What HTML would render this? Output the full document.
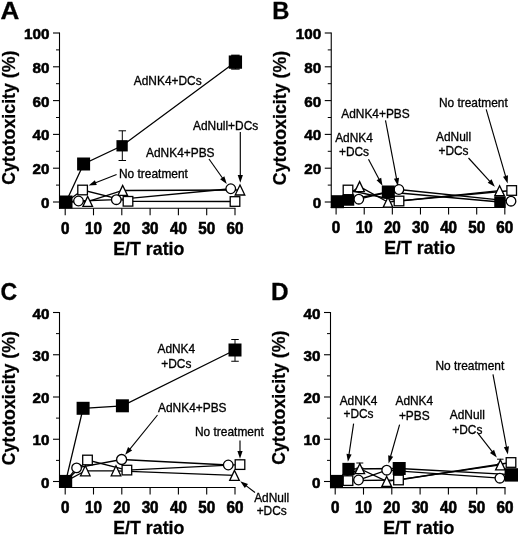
<!DOCTYPE html>
<html><head><meta charset="utf-8"><title>Cytotoxicity vs E/T ratio</title>
<style>
html,body{margin:0;padding:0;background:#fff;}
body{width:520px;height:536px;overflow:hidden;}
svg{display:block;filter:blur(0.45px);font-family:'Liberation Sans', sans-serif;fill:#000;}
</style></head><body>
<svg width="520" height="536" viewBox="0 0 520 536">
<rect width="520" height="536" fill="#fff"/>
<line x1="59.50" y1="32.50" x2="59.50" y2="208.80" stroke="#000" stroke-width="1.1"/>
<line x1="59.00" y1="208.30" x2="235.50" y2="208.30" stroke="#000" stroke-width="1.1"/>
<line x1="53.00" y1="202.00" x2="59.50" y2="202.00" stroke="#000" stroke-width="1.1"/>
<text transform="translate(49.50,208.00) scale(0.958,0.97)" font-size="15.9" font-weight="bold" text-anchor="end"  stroke="#000" stroke-width="0.6">0</text>
<line x1="56.00" y1="185.10" x2="59.50" y2="185.10" stroke="#000" stroke-width="1.0"/>
<line x1="53.00" y1="168.20" x2="59.50" y2="168.20" stroke="#000" stroke-width="1.1"/>
<text transform="translate(49.50,174.20) scale(0.958,0.97)" font-size="15.9" font-weight="bold" text-anchor="end"  stroke="#000" stroke-width="0.6">20</text>
<line x1="56.00" y1="151.30" x2="59.50" y2="151.30" stroke="#000" stroke-width="1.0"/>
<line x1="53.00" y1="134.40" x2="59.50" y2="134.40" stroke="#000" stroke-width="1.1"/>
<text transform="translate(49.50,140.40) scale(0.958,0.97)" font-size="15.9" font-weight="bold" text-anchor="end"  stroke="#000" stroke-width="0.6">40</text>
<line x1="56.00" y1="117.50" x2="59.50" y2="117.50" stroke="#000" stroke-width="1.0"/>
<line x1="53.00" y1="100.60" x2="59.50" y2="100.60" stroke="#000" stroke-width="1.1"/>
<text transform="translate(49.50,106.60) scale(0.958,0.97)" font-size="15.9" font-weight="bold" text-anchor="end"  stroke="#000" stroke-width="0.6">60</text>
<line x1="56.00" y1="83.70" x2="59.50" y2="83.70" stroke="#000" stroke-width="1.0"/>
<line x1="53.00" y1="66.80" x2="59.50" y2="66.80" stroke="#000" stroke-width="1.1"/>
<text transform="translate(49.50,72.80) scale(0.958,0.97)" font-size="15.9" font-weight="bold" text-anchor="end"  stroke="#000" stroke-width="0.6">80</text>
<line x1="56.00" y1="49.90" x2="59.50" y2="49.90" stroke="#000" stroke-width="1.0"/>
<line x1="53.00" y1="33.00" x2="59.50" y2="33.00" stroke="#000" stroke-width="1.1"/>
<text transform="translate(49.50,39.00) scale(0.958,0.97)" font-size="15.9" font-weight="bold" text-anchor="end"  stroke="#000" stroke-width="0.6">100</text>
<line x1="65.20" y1="208.30" x2="65.20" y2="215.30" stroke="#000" stroke-width="1.1"/>
<text transform="translate(65.20,234.00) scale(0.958,1)" font-size="15.9" font-weight="bold" text-anchor="middle"  stroke="#000" stroke-width="0.6">0</text>
<line x1="93.50" y1="208.30" x2="93.50" y2="215.30" stroke="#000" stroke-width="1.1"/>
<text transform="translate(93.50,234.00) scale(0.958,1)" font-size="15.9" font-weight="bold" text-anchor="middle"  stroke="#000" stroke-width="0.6">10</text>
<line x1="121.80" y1="208.30" x2="121.80" y2="215.30" stroke="#000" stroke-width="1.1"/>
<text transform="translate(121.80,234.00) scale(0.958,1)" font-size="15.9" font-weight="bold" text-anchor="middle"  stroke="#000" stroke-width="0.6">20</text>
<line x1="150.10" y1="208.30" x2="150.10" y2="215.30" stroke="#000" stroke-width="1.1"/>
<text transform="translate(150.10,234.00) scale(0.958,1)" font-size="15.9" font-weight="bold" text-anchor="middle"  stroke="#000" stroke-width="0.6">30</text>
<line x1="178.40" y1="208.30" x2="178.40" y2="215.30" stroke="#000" stroke-width="1.1"/>
<text transform="translate(178.40,234.00) scale(0.958,1)" font-size="15.9" font-weight="bold" text-anchor="middle"  stroke="#000" stroke-width="0.6">40</text>
<line x1="206.70" y1="208.30" x2="206.70" y2="215.30" stroke="#000" stroke-width="1.1"/>
<text transform="translate(206.70,234.00) scale(0.958,1)" font-size="15.9" font-weight="bold" text-anchor="middle"  stroke="#000" stroke-width="0.6">50</text>
<line x1="235.00" y1="208.30" x2="235.00" y2="215.30" stroke="#000" stroke-width="1.1"/>
<text transform="translate(235.00,234.00) scale(0.958,1)" font-size="15.9" font-weight="bold" text-anchor="middle"  stroke="#000" stroke-width="0.6">60</text>
<text transform="translate(148.80,254.90) scale(1,1)" font-size="17.8" font-weight="bold" text-anchor="middle"  stroke="#000" stroke-width="0.3">E/T ratio</text>
<text transform="translate(15.20,117.70) rotate(-90)" font-size="17.8" font-weight="bold" stroke="#000" stroke-width="0.25" text-anchor="middle">Cytotoxicity (%)</text>
<text transform="translate(0.60,19.40) scale(1.06,1)" font-size="24.6" font-weight="bold" text-anchor="start"  stroke="#000" stroke-width="0.3">A</text>
<polyline points="66.00,202.00 82.60,190.00 128.00,201.30 235.00,201.50" fill="none" stroke="#000" stroke-width="1.3"/>
<polyline points="66.00,202.00 78.50,201.00 116.30,199.70 230.75,188.75" fill="none" stroke="#000" stroke-width="1.3"/>
<polyline points="66.00,202.00 87.70,201.50 122.70,190.50 240.00,190.00" fill="none" stroke="#000" stroke-width="1.3"/>
<polyline points="66.00,202.00 83.60,164.00 122.10,145.80 235.40,62.10" fill="none" stroke="#000" stroke-width="1.3"/>
<line x1="122.30" y1="130.80" x2="122.30" y2="160.50" stroke="#000" stroke-width="1.0"/>
<line x1="118.55" y1="130.80" x2="126.05" y2="130.80" stroke="#000" stroke-width="1.0"/>
<line x1="118.55" y1="160.50" x2="126.05" y2="160.50" stroke="#000" stroke-width="1.0"/>
<line x1="235.40" y1="55.30" x2="235.40" y2="69.00" stroke="#000" stroke-width="1.3"/>
<line x1="231.15" y1="55.30" x2="239.65" y2="55.30" stroke="#000" stroke-width="1.3"/>
<line x1="231.15" y1="69.00" x2="239.65" y2="69.00" stroke="#000" stroke-width="1.3"/>
<rect x="77.80" y="185.20" width="9.6" height="9.6" fill="#fff" stroke="#000" stroke-width="1.3"/>
<rect x="123.20" y="196.50" width="9.6" height="9.6" fill="#fff" stroke="#000" stroke-width="1.3"/>
<rect x="230.20" y="196.70" width="9.6" height="9.6" fill="#fff" stroke="#000" stroke-width="1.3"/>
<polygon points="87.70,196.40 82.90,206.40 92.50,206.40" fill="#fff" stroke="#000" stroke-width="1.3" stroke-linejoin="miter"/>
<polygon points="122.70,185.40 117.90,195.40 127.50,195.40" fill="#fff" stroke="#000" stroke-width="1.3" stroke-linejoin="miter"/>
<polygon points="240.00,185.00 235.20,195.00 244.80,195.00" fill="#fff" stroke="#000" stroke-width="1.3" stroke-linejoin="miter"/>
<circle cx="78.50" cy="201.00" r="4.8" fill="#fff" stroke="#000" stroke-width="1.3"/>
<circle cx="116.30" cy="199.70" r="4.8" fill="#fff" stroke="#000" stroke-width="1.3"/>
<circle cx="230.75" cy="188.75" r="4.8" fill="#fff" stroke="#000" stroke-width="1.3"/>
<rect x="59.50" y="195.50" width="13" height="13" fill="#000"/>
<rect x="77.10" y="157.50" width="13" height="13" fill="#000"/>
<rect x="116.45" y="140.15" width="11.3" height="11.3" fill="#000"/>
<rect x="228.75" y="55.45" width="13.3" height="13.3" fill="#000"/>
<text transform="translate(133.75,85.40) scale(0.95,1)" font-size="12.55" font-weight="normal" text-anchor="start"  stroke="#000" stroke-width="0.33">AdNK4+DCs</text>
<text transform="translate(193.00,130.40) scale(0.95,1)" font-size="12.55" font-weight="normal" text-anchor="start"  stroke="#000" stroke-width="0.33">AdNull+DCs</text>
<text transform="translate(146.00,157.40) scale(0.95,1)" font-size="12.55" font-weight="normal" text-anchor="start"  stroke="#000" stroke-width="0.33">AdNK4+PBS</text>
<text transform="translate(119.00,178.10) scale(0.95,1)" font-size="12.55" font-weight="normal" text-anchor="start"  stroke="#000" stroke-width="0.33">No treatment</text>
<line x1="240.30" y1="132.00" x2="240.30" y2="176.00" stroke="#000" stroke-width="1.15"/>
<polygon points="240.30,182.80 237.70,175.00 242.90,175.00" fill="#000"/>
<line x1="209.00" y1="159.00" x2="222.82" y2="178.51" stroke="#000" stroke-width="1.15"/>
<polygon points="226.75,184.06 220.12,179.20 224.36,176.19" fill="#000"/>
<line x1="116.60" y1="174.50" x2="94.92" y2="182.99" stroke="#000" stroke-width="1.15"/>
<polygon points="88.59,185.47 94.90,180.21 96.80,185.05" fill="#000"/>
<line x1="331.25" y1="32.50" x2="331.25" y2="208.00" stroke="#000" stroke-width="1.1"/>
<line x1="330.75" y1="207.50" x2="505.32" y2="207.50" stroke="#000" stroke-width="1.1"/>
<line x1="324.75" y1="202.00" x2="331.25" y2="202.00" stroke="#000" stroke-width="1.1"/>
<text transform="translate(321.25,208.00) scale(0.958,0.97)" font-size="15.9" font-weight="bold" text-anchor="end"  stroke="#000" stroke-width="0.6">0</text>
<line x1="327.75" y1="185.10" x2="331.25" y2="185.10" stroke="#000" stroke-width="1.0"/>
<line x1="324.75" y1="168.20" x2="331.25" y2="168.20" stroke="#000" stroke-width="1.1"/>
<text transform="translate(321.25,174.20) scale(0.958,0.97)" font-size="15.9" font-weight="bold" text-anchor="end"  stroke="#000" stroke-width="0.6">20</text>
<line x1="327.75" y1="151.30" x2="331.25" y2="151.30" stroke="#000" stroke-width="1.0"/>
<line x1="324.75" y1="134.40" x2="331.25" y2="134.40" stroke="#000" stroke-width="1.1"/>
<text transform="translate(321.25,140.40) scale(0.958,0.97)" font-size="15.9" font-weight="bold" text-anchor="end"  stroke="#000" stroke-width="0.6">40</text>
<line x1="327.75" y1="117.50" x2="331.25" y2="117.50" stroke="#000" stroke-width="1.0"/>
<line x1="324.75" y1="100.60" x2="331.25" y2="100.60" stroke="#000" stroke-width="1.1"/>
<text transform="translate(321.25,106.60) scale(0.958,0.97)" font-size="15.9" font-weight="bold" text-anchor="end"  stroke="#000" stroke-width="0.6">60</text>
<line x1="327.75" y1="83.70" x2="331.25" y2="83.70" stroke="#000" stroke-width="1.0"/>
<line x1="324.75" y1="66.80" x2="331.25" y2="66.80" stroke="#000" stroke-width="1.1"/>
<text transform="translate(321.25,72.80) scale(0.958,0.97)" font-size="15.9" font-weight="bold" text-anchor="end"  stroke="#000" stroke-width="0.6">80</text>
<line x1="327.75" y1="49.90" x2="331.25" y2="49.90" stroke="#000" stroke-width="1.0"/>
<line x1="324.75" y1="33.00" x2="331.25" y2="33.00" stroke="#000" stroke-width="1.1"/>
<text transform="translate(321.25,39.00) scale(0.958,0.97)" font-size="15.9" font-weight="bold" text-anchor="end"  stroke="#000" stroke-width="0.6">100</text>
<line x1="336.10" y1="207.50" x2="336.10" y2="214.50" stroke="#000" stroke-width="1.1"/>
<text transform="translate(336.10,233.20) scale(0.958,1)" font-size="15.9" font-weight="bold" text-anchor="middle"  stroke="#000" stroke-width="0.6">0</text>
<line x1="364.22" y1="207.50" x2="364.22" y2="214.50" stroke="#000" stroke-width="1.1"/>
<text transform="translate(364.22,233.20) scale(0.958,1)" font-size="15.9" font-weight="bold" text-anchor="middle"  stroke="#000" stroke-width="0.6">10</text>
<line x1="392.34" y1="207.50" x2="392.34" y2="214.50" stroke="#000" stroke-width="1.1"/>
<text transform="translate(392.34,233.20) scale(0.958,1)" font-size="15.9" font-weight="bold" text-anchor="middle"  stroke="#000" stroke-width="0.6">20</text>
<line x1="420.46" y1="207.50" x2="420.46" y2="214.50" stroke="#000" stroke-width="1.1"/>
<text transform="translate(420.46,233.20) scale(0.958,1)" font-size="15.9" font-weight="bold" text-anchor="middle"  stroke="#000" stroke-width="0.6">30</text>
<line x1="448.58" y1="207.50" x2="448.58" y2="214.50" stroke="#000" stroke-width="1.1"/>
<text transform="translate(448.58,233.20) scale(0.958,1)" font-size="15.9" font-weight="bold" text-anchor="middle"  stroke="#000" stroke-width="0.6">40</text>
<line x1="476.70" y1="207.50" x2="476.70" y2="214.50" stroke="#000" stroke-width="1.1"/>
<text transform="translate(476.70,233.20) scale(0.958,1)" font-size="15.9" font-weight="bold" text-anchor="middle"  stroke="#000" stroke-width="0.6">50</text>
<line x1="504.82" y1="207.50" x2="504.82" y2="214.50" stroke="#000" stroke-width="1.1"/>
<text transform="translate(504.82,233.20) scale(0.958,1)" font-size="15.9" font-weight="bold" text-anchor="middle"  stroke="#000" stroke-width="0.6">60</text>
<text transform="translate(419.70,254.10) scale(1,1)" font-size="17.8" font-weight="bold" text-anchor="middle"  stroke="#000" stroke-width="0.3">E/T ratio</text>
<text transform="translate(286.35,118.00) rotate(-90)" font-size="17.8" font-weight="bold" stroke="#000" stroke-width="0.25" text-anchor="middle">Cytotoxicity (%)</text>
<text transform="translate(272.20,19.00) scale(0.965,1)" font-size="24.6" font-weight="bold" text-anchor="start"  stroke="#000" stroke-width="0.3">B</text>
<polyline points="337.50,202.00 348.00,190.00 399.00,201.00 511.70,190.50" fill="none" stroke="#000" stroke-width="1.3"/>
<polyline points="337.50,202.00 358.80,199.20 398.90,189.50 511.00,201.20" fill="none" stroke="#000" stroke-width="1.3"/>
<polyline points="337.50,202.00 359.60,186.60 388.00,202.20 499.60,190.70" fill="none" stroke="#000" stroke-width="1.3"/>
<polyline points="337.50,201.70 348.00,200.00 388.00,192.00 500.00,202.00" fill="none" stroke="#000" stroke-width="1.3"/>
<rect x="343.20" y="185.20" width="9.6" height="9.6" fill="#fff" stroke="#000" stroke-width="1.3"/>
<rect x="394.20" y="196.20" width="9.6" height="9.6" fill="#fff" stroke="#000" stroke-width="1.3"/>
<rect x="506.90" y="185.70" width="9.6" height="9.6" fill="#fff" stroke="#000" stroke-width="1.3"/>
<polygon points="359.60,181.60 354.80,191.60 364.40,191.60" fill="#fff" stroke="#000" stroke-width="1.3" stroke-linejoin="miter"/>
<polygon points="388.00,197.20 383.20,207.20 392.80,207.20" fill="#fff" stroke="#000" stroke-width="1.3" stroke-linejoin="miter"/>
<polygon points="499.60,185.70 494.80,195.70 504.40,195.70" fill="#fff" stroke="#000" stroke-width="1.3" stroke-linejoin="miter"/>
<circle cx="358.80" cy="199.20" r="4.8" fill="#fff" stroke="#000" stroke-width="1.3"/>
<circle cx="398.90" cy="189.50" r="4.8" fill="#fff" stroke="#000" stroke-width="1.3"/>
<circle cx="511.00" cy="201.20" r="4.8" fill="#fff" stroke="#000" stroke-width="1.3"/>
<rect x="331.00" y="195.20" width="13" height="13" fill="#000"/>
<rect x="342.75" y="194.25" width="11.5" height="11.5" fill="#000"/>
<rect x="381.80" y="185.50" width="13" height="13" fill="#000"/>
<rect x="494.25" y="196.25" width="11.5" height="11.5" fill="#000"/>
<text transform="translate(341.20,118.40) scale(0.95,1)" font-size="12.55" font-weight="normal" text-anchor="start"  stroke="#000" stroke-width="0.33">AdNK4+PBS</text>
<text transform="translate(354.00,141.90) scale(0.95,1)" font-size="12.55" font-weight="normal" text-anchor="middle"  stroke="#000" stroke-width="0.33">AdNK4</text>
<text transform="translate(354.00,155.90) scale(0.95,1)" font-size="12.55" font-weight="normal" text-anchor="middle"  stroke="#000" stroke-width="0.33">+DCs</text>
<text transform="translate(438.90,106.90) scale(0.95,1)" font-size="12.55" font-weight="normal" text-anchor="start"  stroke="#000" stroke-width="0.33">No treatment</text>
<text transform="translate(453.50,141.40) scale(0.95,1)" font-size="12.55" font-weight="normal" text-anchor="middle"  stroke="#000" stroke-width="0.33">AdNull</text>
<text transform="translate(453.50,155.40) scale(0.95,1)" font-size="12.55" font-weight="normal" text-anchor="middle"  stroke="#000" stroke-width="0.33">+DCs</text>
<line x1="385.50" y1="120.30" x2="396.68" y2="179.30" stroke="#000" stroke-width="1.15"/>
<polygon points="397.94,185.98 393.94,178.80 399.04,177.83" fill="#000"/>
<line x1="368.50" y1="159.20" x2="379.34" y2="179.83" stroke="#000" stroke-width="1.15"/>
<polygon points="382.50,185.85 376.57,180.16 381.18,177.74" fill="#000"/>
<line x1="486.20" y1="109.40" x2="505.77" y2="176.92" stroke="#000" stroke-width="1.15"/>
<polygon points="507.66,183.45 502.99,176.68 507.99,175.23" fill="#000"/>
<line x1="468.50" y1="158.00" x2="490.29" y2="181.84" stroke="#000" stroke-width="1.15"/>
<polygon points="494.88,186.86 487.70,182.86 491.53,179.35" fill="#000"/>
<line x1="59.50" y1="312.00" x2="59.50" y2="488.00" stroke="#000" stroke-width="1.1"/>
<line x1="59.00" y1="487.50" x2="235.50" y2="487.50" stroke="#000" stroke-width="1.1"/>
<line x1="53.00" y1="481.50" x2="59.50" y2="481.50" stroke="#000" stroke-width="1.1"/>
<text transform="translate(49.50,487.50) scale(0.958,0.97)" font-size="15.9" font-weight="bold" text-anchor="end"  stroke="#000" stroke-width="0.6">0</text>
<line x1="56.00" y1="460.38" x2="59.50" y2="460.38" stroke="#000" stroke-width="1.0"/>
<line x1="53.00" y1="439.25" x2="59.50" y2="439.25" stroke="#000" stroke-width="1.1"/>
<text transform="translate(49.50,445.25) scale(0.958,0.97)" font-size="15.9" font-weight="bold" text-anchor="end"  stroke="#000" stroke-width="0.6">10</text>
<line x1="56.00" y1="418.12" x2="59.50" y2="418.12" stroke="#000" stroke-width="1.0"/>
<line x1="53.00" y1="397.00" x2="59.50" y2="397.00" stroke="#000" stroke-width="1.1"/>
<text transform="translate(49.50,403.00) scale(0.958,0.97)" font-size="15.9" font-weight="bold" text-anchor="end"  stroke="#000" stroke-width="0.6">20</text>
<line x1="56.00" y1="375.88" x2="59.50" y2="375.88" stroke="#000" stroke-width="1.0"/>
<line x1="53.00" y1="354.75" x2="59.50" y2="354.75" stroke="#000" stroke-width="1.1"/>
<text transform="translate(49.50,360.75) scale(0.958,0.97)" font-size="15.9" font-weight="bold" text-anchor="end"  stroke="#000" stroke-width="0.6">30</text>
<line x1="56.00" y1="333.62" x2="59.50" y2="333.62" stroke="#000" stroke-width="1.0"/>
<line x1="53.00" y1="312.50" x2="59.50" y2="312.50" stroke="#000" stroke-width="1.1"/>
<text transform="translate(49.50,318.50) scale(0.958,0.97)" font-size="15.9" font-weight="bold" text-anchor="end"  stroke="#000" stroke-width="0.6">40</text>
<line x1="65.20" y1="487.50" x2="65.20" y2="494.50" stroke="#000" stroke-width="1.1"/>
<text transform="translate(65.20,513.20) scale(0.958,1)" font-size="15.9" font-weight="bold" text-anchor="middle"  stroke="#000" stroke-width="0.6">0</text>
<line x1="93.50" y1="487.50" x2="93.50" y2="494.50" stroke="#000" stroke-width="1.1"/>
<text transform="translate(93.50,513.20) scale(0.958,1)" font-size="15.9" font-weight="bold" text-anchor="middle"  stroke="#000" stroke-width="0.6">10</text>
<line x1="121.80" y1="487.50" x2="121.80" y2="494.50" stroke="#000" stroke-width="1.1"/>
<text transform="translate(121.80,513.20) scale(0.958,1)" font-size="15.9" font-weight="bold" text-anchor="middle"  stroke="#000" stroke-width="0.6">20</text>
<line x1="150.10" y1="487.50" x2="150.10" y2="494.50" stroke="#000" stroke-width="1.1"/>
<text transform="translate(150.10,513.20) scale(0.958,1)" font-size="15.9" font-weight="bold" text-anchor="middle"  stroke="#000" stroke-width="0.6">30</text>
<line x1="178.40" y1="487.50" x2="178.40" y2="494.50" stroke="#000" stroke-width="1.1"/>
<text transform="translate(178.40,513.20) scale(0.958,1)" font-size="15.9" font-weight="bold" text-anchor="middle"  stroke="#000" stroke-width="0.6">40</text>
<line x1="206.70" y1="487.50" x2="206.70" y2="494.50" stroke="#000" stroke-width="1.1"/>
<text transform="translate(206.70,513.20) scale(0.958,1)" font-size="15.9" font-weight="bold" text-anchor="middle"  stroke="#000" stroke-width="0.6">50</text>
<line x1="235.00" y1="487.50" x2="235.00" y2="494.50" stroke="#000" stroke-width="1.1"/>
<text transform="translate(235.00,513.20) scale(0.958,1)" font-size="15.9" font-weight="bold" text-anchor="middle"  stroke="#000" stroke-width="0.6">60</text>
<text transform="translate(148.80,534.10) scale(1,1)" font-size="17.8" font-weight="bold" text-anchor="middle"  stroke="#000" stroke-width="0.3">E/T ratio</text>
<text transform="translate(15.20,398.20) rotate(-90)" font-size="17.8" font-weight="bold" stroke="#000" stroke-width="0.25" text-anchor="middle">Cytotoxicity (%)</text>
<text transform="translate(0.60,300.40) scale(0.94,1)" font-size="24.6" font-weight="bold" text-anchor="start"  stroke="#000" stroke-width="0.3">C</text>
<polyline points="65.70,481.40 87.50,460.00 126.90,470.10 240.00,464.60" fill="none" stroke="#000" stroke-width="1.3"/>
<polyline points="65.70,481.40 76.60,467.90 121.60,459.50 228.25,465.00" fill="none" stroke="#000" stroke-width="1.3"/>
<polyline points="65.70,481.40 85.30,470.80 116.00,470.80 234.50,475.40" fill="none" stroke="#000" stroke-width="1.3"/>
<polyline points="65.70,481.40 83.10,408.30 122.40,405.80 235.00,350.00" fill="none" stroke="#000" stroke-width="1.3"/>
<line x1="235.00" y1="339.50" x2="235.00" y2="361.25" stroke="#000" stroke-width="1.0"/>
<line x1="231.25" y1="339.50" x2="238.75" y2="339.50" stroke="#000" stroke-width="1.0"/>
<line x1="231.25" y1="361.25" x2="238.75" y2="361.25" stroke="#000" stroke-width="1.0"/>
<rect x="82.70" y="455.20" width="9.6" height="9.6" fill="#fff" stroke="#000" stroke-width="1.3"/>
<rect x="122.10" y="465.30" width="9.6" height="9.6" fill="#fff" stroke="#000" stroke-width="1.3"/>
<rect x="235.20" y="459.80" width="9.6" height="9.6" fill="#fff" stroke="#000" stroke-width="1.3"/>
<polygon points="85.30,465.80 80.50,475.80 90.10,475.80" fill="#fff" stroke="#000" stroke-width="1.3" stroke-linejoin="miter"/>
<polygon points="116.00,465.80 111.20,475.80 120.80,475.80" fill="#fff" stroke="#000" stroke-width="1.3" stroke-linejoin="miter"/>
<polygon points="234.50,470.40 229.70,480.40 239.30,480.40" fill="#fff" stroke="#000" stroke-width="1.3" stroke-linejoin="miter"/>
<circle cx="76.60" cy="467.90" r="4.8" fill="#fff" stroke="#000" stroke-width="1.3"/>
<circle cx="121.60" cy="459.50" r="5.0" fill="#fff" stroke="#000" stroke-width="1.3"/>
<circle cx="228.25" cy="465.00" r="4.8" fill="#fff" stroke="#000" stroke-width="1.3"/>
<rect x="59.20" y="474.90" width="13" height="13" fill="#000"/>
<rect x="76.60" y="401.80" width="13" height="13" fill="#000"/>
<rect x="115.90" y="399.30" width="13" height="13" fill="#000"/>
<rect x="228.50" y="343.50" width="13" height="13" fill="#000"/>
<text transform="translate(176.30,352.90) scale(0.95,1)" font-size="12.55" font-weight="normal" text-anchor="middle"  stroke="#000" stroke-width="0.33">AdNK4</text>
<text transform="translate(176.30,367.90) scale(0.95,1)" font-size="12.55" font-weight="normal" text-anchor="middle"  stroke="#000" stroke-width="0.33">+DCs</text>
<text transform="translate(158.00,411.65) scale(0.95,1)" font-size="12.55" font-weight="normal" text-anchor="start"  stroke="#000" stroke-width="0.33">AdNK4+PBS</text>
<text transform="translate(195.00,436.20) scale(0.95,1)" font-size="12.55" font-weight="normal" text-anchor="start"  stroke="#000" stroke-width="0.33">No treatment</text>
<text transform="translate(271.70,501.65) scale(0.95,1)" font-size="12.55" font-weight="normal" text-anchor="middle"  stroke="#000" stroke-width="0.33">AdNull</text>
<text transform="translate(271.70,515.40) scale(0.95,1)" font-size="12.55" font-weight="normal" text-anchor="middle"  stroke="#000" stroke-width="0.33">+DCs</text>
<line x1="157.50" y1="415.00" x2="129.47" y2="449.53" stroke="#000" stroke-width="1.15"/>
<polygon points="125.18,454.81 128.08,447.11 132.12,450.39" fill="#000"/>
<line x1="240.00" y1="440.50" x2="240.00" y2="452.00" stroke="#000" stroke-width="1.15"/>
<polygon points="240.00,458.80 237.40,451.00 242.60,451.00" fill="#000"/>
<line x1="255.00" y1="492.50" x2="245.62" y2="485.34" stroke="#000" stroke-width="1.15"/>
<polygon points="240.22,481.21 247.99,483.88 244.84,488.01" fill="#000"/>
<line x1="330.50" y1="312.00" x2="330.50" y2="488.10" stroke="#000" stroke-width="1.1"/>
<line x1="330.00" y1="487.60" x2="505.50" y2="487.60" stroke="#000" stroke-width="1.1"/>
<line x1="324.00" y1="481.50" x2="330.50" y2="481.50" stroke="#000" stroke-width="1.1"/>
<text transform="translate(320.50,487.50) scale(0.958,0.97)" font-size="15.9" font-weight="bold" text-anchor="end"  stroke="#000" stroke-width="0.6">0</text>
<line x1="327.00" y1="460.38" x2="330.50" y2="460.38" stroke="#000" stroke-width="1.0"/>
<line x1="324.00" y1="439.25" x2="330.50" y2="439.25" stroke="#000" stroke-width="1.1"/>
<text transform="translate(320.50,445.25) scale(0.958,0.97)" font-size="15.9" font-weight="bold" text-anchor="end"  stroke="#000" stroke-width="0.6">10</text>
<line x1="327.00" y1="418.12" x2="330.50" y2="418.12" stroke="#000" stroke-width="1.0"/>
<line x1="324.00" y1="397.00" x2="330.50" y2="397.00" stroke="#000" stroke-width="1.1"/>
<text transform="translate(320.50,403.00) scale(0.958,0.97)" font-size="15.9" font-weight="bold" text-anchor="end"  stroke="#000" stroke-width="0.6">20</text>
<line x1="327.00" y1="375.88" x2="330.50" y2="375.88" stroke="#000" stroke-width="1.0"/>
<line x1="324.00" y1="354.75" x2="330.50" y2="354.75" stroke="#000" stroke-width="1.1"/>
<text transform="translate(320.50,360.75) scale(0.958,0.97)" font-size="15.9" font-weight="bold" text-anchor="end"  stroke="#000" stroke-width="0.6">30</text>
<line x1="327.00" y1="333.62" x2="330.50" y2="333.62" stroke="#000" stroke-width="1.0"/>
<line x1="324.00" y1="312.50" x2="330.50" y2="312.50" stroke="#000" stroke-width="1.1"/>
<text transform="translate(320.50,318.50) scale(0.958,0.97)" font-size="15.9" font-weight="bold" text-anchor="end"  stroke="#000" stroke-width="0.6">40</text>
<line x1="335.20" y1="487.60" x2="335.20" y2="494.60" stroke="#000" stroke-width="1.1"/>
<text transform="translate(335.20,513.30) scale(0.958,1)" font-size="15.9" font-weight="bold" text-anchor="middle"  stroke="#000" stroke-width="0.6">0</text>
<line x1="363.50" y1="487.60" x2="363.50" y2="494.60" stroke="#000" stroke-width="1.1"/>
<text transform="translate(363.50,513.30) scale(0.958,1)" font-size="15.9" font-weight="bold" text-anchor="middle"  stroke="#000" stroke-width="0.6">10</text>
<line x1="391.80" y1="487.60" x2="391.80" y2="494.60" stroke="#000" stroke-width="1.1"/>
<text transform="translate(391.80,513.30) scale(0.958,1)" font-size="15.9" font-weight="bold" text-anchor="middle"  stroke="#000" stroke-width="0.6">20</text>
<line x1="420.10" y1="487.60" x2="420.10" y2="494.60" stroke="#000" stroke-width="1.1"/>
<text transform="translate(420.10,513.30) scale(0.958,1)" font-size="15.9" font-weight="bold" text-anchor="middle"  stroke="#000" stroke-width="0.6">30</text>
<line x1="448.40" y1="487.60" x2="448.40" y2="494.60" stroke="#000" stroke-width="1.1"/>
<text transform="translate(448.40,513.30) scale(0.958,1)" font-size="15.9" font-weight="bold" text-anchor="middle"  stroke="#000" stroke-width="0.6">40</text>
<line x1="476.70" y1="487.60" x2="476.70" y2="494.60" stroke="#000" stroke-width="1.1"/>
<text transform="translate(476.70,513.30) scale(0.958,1)" font-size="15.9" font-weight="bold" text-anchor="middle"  stroke="#000" stroke-width="0.6">50</text>
<line x1="505.00" y1="487.60" x2="505.00" y2="494.60" stroke="#000" stroke-width="1.1"/>
<text transform="translate(505.00,513.30) scale(0.958,1)" font-size="15.9" font-weight="bold" text-anchor="middle"  stroke="#000" stroke-width="0.6">60</text>
<text transform="translate(418.80,534.20) scale(1,1)" font-size="17.8" font-weight="bold" text-anchor="middle"  stroke="#000" stroke-width="0.3">E/T ratio</text>
<text transform="translate(285.00,397.70) rotate(-90)" font-size="17.8" font-weight="bold" stroke="#000" stroke-width="0.25" text-anchor="middle">Cytotoxicity (%)</text>
<text transform="translate(270.90,300.40) scale(0.99,1)" font-size="24.6" font-weight="bold" text-anchor="start"  stroke="#000" stroke-width="0.3">D</text>
<polyline points="336.50,481.40 348.00,480.60 398.50,480.00 511.00,462.50" fill="none" stroke="#000" stroke-width="1.3"/>
<polyline points="336.50,481.40 358.50,480.00 386.70,470.20 499.90,478.20" fill="none" stroke="#000" stroke-width="1.3"/>
<polyline points="336.50,481.40 359.80,468.70 386.70,481.40 500.40,464.90" fill="none" stroke="#000" stroke-width="1.3"/>
<polyline points="336.50,481.40 348.50,469.00 399.20,468.50 511.70,474.60" fill="none" stroke="#000" stroke-width="1.3"/>
<line x1="359.80" y1="463.00" x2="359.80" y2="468.00" stroke="#000" stroke-width="1.0"/>
<line x1="356.30" y1="463.00" x2="363.30" y2="463.00" stroke="#000" stroke-width="1.0"/>
<line x1="356.30" y1="468.00" x2="363.30" y2="468.00" stroke="#000" stroke-width="1.0"/>
<line x1="500.30" y1="459.20" x2="500.30" y2="464.00" stroke="#000" stroke-width="1.0"/>
<line x1="497.05" y1="459.20" x2="503.55" y2="459.20" stroke="#000" stroke-width="1.0"/>
<line x1="497.05" y1="464.00" x2="503.55" y2="464.00" stroke="#000" stroke-width="1.0"/>
<rect x="343.20" y="475.80" width="9.6" height="9.6" fill="#fff" stroke="#000" stroke-width="1.3"/>
<rect x="393.70" y="475.20" width="9.6" height="9.6" fill="#fff" stroke="#000" stroke-width="1.3"/>
<rect x="506.20" y="457.70" width="9.6" height="9.6" fill="#fff" stroke="#000" stroke-width="1.3"/>
<polygon points="359.80,463.70 355.00,473.70 364.60,473.70" fill="#fff" stroke="#000" stroke-width="1.3" stroke-linejoin="miter"/>
<polygon points="386.70,476.40 381.90,486.40 391.50,486.40" fill="#fff" stroke="#000" stroke-width="1.3" stroke-linejoin="miter"/>
<polygon points="500.40,459.90 495.60,469.90 505.20,469.90" fill="#fff" stroke="#000" stroke-width="1.3" stroke-linejoin="miter"/>
<circle cx="358.50" cy="480.00" r="4.8" fill="#fff" stroke="#000" stroke-width="1.3"/>
<circle cx="386.70" cy="470.20" r="4.8" fill="#fff" stroke="#000" stroke-width="1.3"/>
<circle cx="499.90" cy="478.20" r="4.8" fill="#fff" stroke="#000" stroke-width="1.3"/>
<rect x="330.00" y="474.90" width="13" height="13" fill="#000"/>
<rect x="342.35" y="462.85" width="12.3" height="12.3" fill="#000"/>
<rect x="392.70" y="462.00" width="13" height="13" fill="#000"/>
<rect x="504.60" y="468.20" width="13.4" height="13.4" fill="#000"/>
<text transform="translate(358.50,404.60) scale(0.95,1)" font-size="12.55" font-weight="normal" text-anchor="middle"  stroke="#000" stroke-width="0.33">AdNK4</text>
<text transform="translate(358.50,418.40) scale(0.95,1)" font-size="12.55" font-weight="normal" text-anchor="middle"  stroke="#000" stroke-width="0.33">+DCs</text>
<text transform="translate(414.30,405.40) scale(0.95,1)" font-size="12.55" font-weight="normal" text-anchor="middle"  stroke="#000" stroke-width="0.33">AdNK4</text>
<text transform="translate(414.30,419.90) scale(0.95,1)" font-size="12.55" font-weight="normal" text-anchor="middle"  stroke="#000" stroke-width="0.33">+PBS</text>
<text transform="translate(435.40,370.30) scale(0.95,1)" font-size="12.55" font-weight="normal" text-anchor="start"  stroke="#000" stroke-width="0.33">No treatment</text>
<text transform="translate(467.30,419.40) scale(0.95,1)" font-size="12.55" font-weight="normal" text-anchor="middle"  stroke="#000" stroke-width="0.33">AdNull</text>
<text transform="translate(467.30,433.80) scale(0.95,1)" font-size="12.55" font-weight="normal" text-anchor="middle"  stroke="#000" stroke-width="0.33">+DCs</text>
<line x1="353.60" y1="423.60" x2="348.91" y2="455.06" stroke="#000" stroke-width="1.15"/>
<polygon points="347.91,461.79 346.49,453.69 351.63,454.45" fill="#000"/>
<line x1="399.60" y1="424.70" x2="390.41" y2="457.01" stroke="#000" stroke-width="1.15"/>
<polygon points="388.54,463.55 388.18,455.34 393.18,456.76" fill="#000"/>
<line x1="493.00" y1="374.30" x2="506.60" y2="447.79" stroke="#000" stroke-width="1.15"/>
<polygon points="507.84,454.48 503.86,447.28 508.97,446.34" fill="#000"/>
<line x1="478.00" y1="433.40" x2="492.61" y2="452.07" stroke="#000" stroke-width="1.15"/>
<polygon points="496.80,457.42 489.95,452.88 494.04,449.68" fill="#000"/>
</svg>
</body></html>
